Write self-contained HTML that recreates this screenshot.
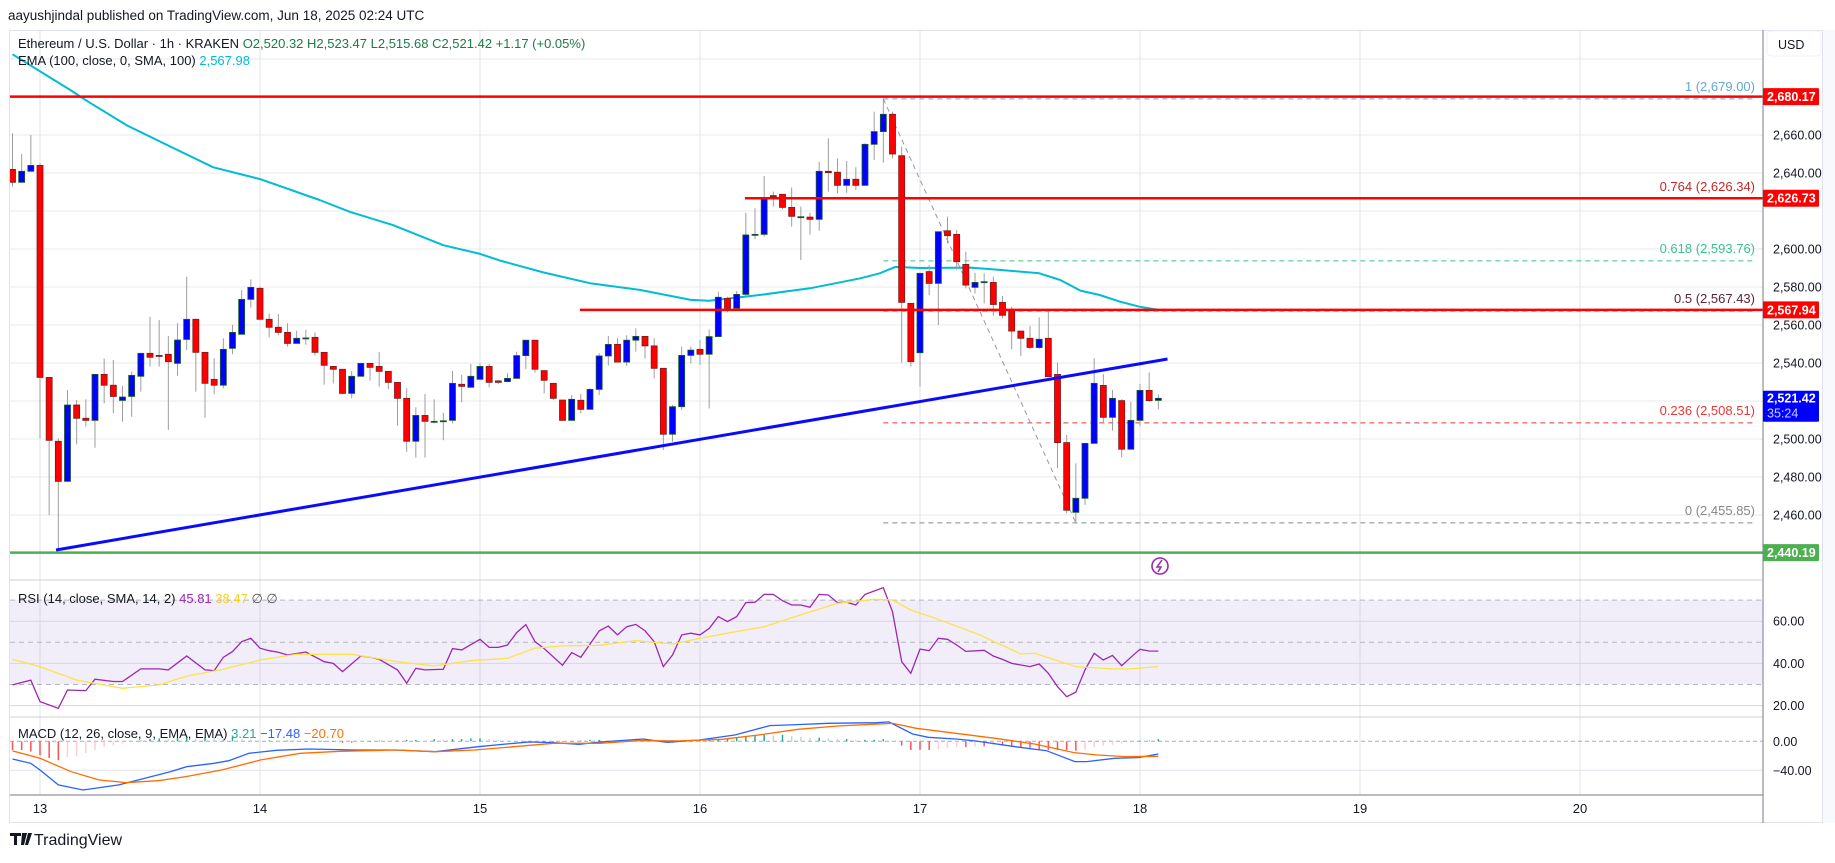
<!DOCTYPE html>
<html><head><meta charset="utf-8"><style>
html,body{margin:0;padding:0;background:#fff;}
body{width:1835px;height:858px;overflow:hidden;font-family:"Liberation Sans",sans-serif;}
svg text{font-family:"Liberation Sans",sans-serif;}
</style></head><body>
<svg id="chart" width="1835" height="858" viewBox="0 0 1835 858" xmlns="http://www.w3.org/2000/svg">
<rect x="0" y="0" width="1835" height="858" fill="#ffffff"/>
<text x="8" y="20" font-size="13.5" fill="#131722">aayushjindal published on TradingView.com, Jun 18, 2025 02:24 UTC</text>
<rect x="9.5" y="30.5" width="1813" height="792" fill="none" stroke="#e0e3eb"/>
<rect x="1823" y="30" width="12" height="793" fill="#f8f9fd"/>
<g id="grid"></g>
<rect x="10" y="600" width="1753" height="84.3" fill="#7e57c2" fill-opacity="0.1"/>
<g id="gridfront"></g>
<g id="main" clip-path="url(#clipMain)"></g>
<g id="rsi"></g>
<g id="macd"></g>
<g id="axis"></g>
<defs><clipPath id="clipMain"><rect x="10" y="31" width="1753" height="549"/></clipPath></defs>
<text x="18" y="48" font-size="13" fill="#131722">Ethereum / U.S. Dollar · 1h · KRAKEN <tspan fill="#1e7a45">O2,520.32 H2,523.47 L2,515.68 C2,521.42 +1.17 (+0.05%)</tspan></text>
<text x="18" y="65" font-size="13" fill="#131722">EMA (100, close, 0, SMA, 100) <tspan fill="#00bcd4">2,567.98</tspan></text>
<text x="18" y="603" font-size="13" fill="#131722">RSI (14, close, SMA, 14, 2) <tspan fill="#9c27b0">45.81</tspan> <tspan fill="#f2d027">38.47</tspan> <tspan fill="#555">∅ ∅</tspan></text>
<text x="18" y="738" font-size="13" fill="#131722">MACD (12, 26, close, 9, EMA, EMA) <tspan fill="#26a69a">3.21</tspan> <tspan fill="#2962ff">−17.48</tspan> <tspan fill="#ff6d00">−20.70</tspan></text>
<g>
<path d="M10 833h11v3h-4v9h-3v-9h-4z M22 833h5l-3 12h-3z M28 833h4l-4 12h-3z" fill="#131722"/>
<text x="34" y="845" font-size="16" fill="#131722">TradingView</text>
</g>
<g><rect x="1767" y="31" width="54" height="25" rx="4" fill="#fff" stroke="#eef0f3"/><text x="1778" y="49" font-size="12.5" fill="#131722">USD</text></g>
</svg>
<script>
// ---------- data ----------
const startIndex = -3;
const opens = [2641.9,2635.1,2640.9,2644.0,2532.4,2498.8,2477.7,2517.9,2510.9,2509.8,2534.0,2528.3,2520.3,2522.4,2533.0,2545.1,2544.0,2544.6,2539.8,2552.4,2563.0,2545.6,2531.4,2528.3,2547.7,2555.1,2573.5,2579.3,2563.0,2558.8,2556.1,2550.3,2553.2,2553.5,2545.6,2538.2,2536.7,2524.0,2533.0,2539.8,2538.2,2535.6,2529.8,2521.4,2498.8,2512.4,2509.3,2509.6,2509.8,2528.8,2527.2,2531.4,2538.2,2530.6,2530.2,2531.9,2543.9,2552.0,2536.0,2529.3,2520.5,2509.8,2520.4,2515.6,2526.1,2543.7,2549.8,2540.5,2552.0,2554.0,2549.0,2537.2,2502.5,2517.0,2544.0,2547.2,2544.6,2553.9,2574.0,2568.8,2576.1,2607.7,2607.7,2628.1,2628.8,2621.9,2617.0,2616.8,2615.6,2640.9,2640.4,2633.5,2636.7,2633.5,2655.1,2661.8,2670.9,2649.1,2571.4,2545.4,2588.1,2581.9,2609.6,2607.7,2591.9,2579.8,2582.8,2582.4,2571.9,2567.4,2556.8,2553.0,2548.1,2553.0,2534.0,2498.1,2461.4,2468.8,2497.7,2528.2,2511.4,2520.2,2494.6,2509.8,2525.6,2520.32];
const highs = [2660.9,2650.0,2660.0,2645.1,2532.4,2500.3,2525.8,2520.5,2520.9,2534.0,2542.3,2541.6,2527.9,2535.3,2545.1,2564.4,2562.6,2554.2,2560.9,2585.4,2563.5,2545.6,2542.5,2553.0,2560.0,2578.4,2584.0,2580.2,2566.1,2565.8,2560.9,2557.0,2557.4,2556.1,2545.6,2538.2,2536.7,2535.8,2539.8,2539.8,2545.8,2535.6,2529.8,2526.7,2516.7,2523.7,2520.9,2513.8,2535.8,2533.7,2539.5,2539.8,2539.5,2531.0,2534.6,2546.0,2552.0,2552.0,2536.0,2529.3,2520.5,2523.2,2523.7,2526.7,2545.1,2554.2,2553.0,2554.6,2558.2,2554.0,2553.0,2537.2,2517.9,2548.6,2548.6,2552.1,2557.7,2577.6,2574.9,2577.9,2619.1,2621.4,2638.4,2630.2,2628.8,2632.4,2622.3,2619.1,2645.9,2658.2,2647.7,2646.3,2643.0,2655.6,2672.3,2679.3,2672.3,2653.9,2571.4,2587.2,2591.6,2609.1,2617.0,2610.0,2598.6,2587.5,2587.2,2585.4,2575.3,2569.6,2556.8,2559.5,2564.0,2567.4,2540.3,2502.1,2487.2,2497.7,2542.5,2534.2,2525.8,2520.9,2519.6,2529.0,2535.1,2523.47];
const lows = [2632.8,2635.1,2640.9,2500.3,2460.0,2442.0,2477.5,2497.2,2506.5,2495.4,2518.8,2513.5,2509.1,2511.7,2524.9,2538.1,2538.1,2504.7,2533.3,2546.8,2524.9,2511.2,2523.5,2526.7,2544.6,2555.1,2569.1,2563.0,2553.5,2554.6,2548.6,2550.3,2549.6,2543.9,2528.6,2529.3,2524.0,2521.4,2533.0,2530.7,2527.5,2526.3,2507.0,2493.3,2490.2,2490.2,2508.2,2499.3,2508.2,2519.3,2527.2,2531.4,2527.2,2529.0,2530.2,2531.9,2536.7,2534.9,2524.0,2520.5,2509.8,2509.8,2513.5,2515.6,2523.2,2538.6,2540.5,2538.4,2546.0,2542.3,2531.9,2494.2,2498.6,2515.3,2539.8,2539.0,2516.1,2553.9,2566.7,2568.8,2574.9,2605.1,2606.5,2622.3,2620.9,2611.8,2594.2,2607.5,2609.6,2630.2,2629.3,2629.6,2631.1,2633.5,2646.8,2645.5,2647.7,2540.2,2538.1,2527.5,2575.8,2560.0,2603.0,2589.0,2579.3,2576.6,2571.4,2564.9,2563.5,2547.2,2543.7,2547.5,2547.5,2532.8,2484.6,2460.9,2455.9,2465.3,2497.7,2508.2,2504.4,2490.3,2494.6,2506.8,2519.6,2515.68];
const closes = [2635.1,2640.9,2644.0,2532.4,2499.3,2477.7,2517.9,2510.9,2509.8,2534.0,2528.3,2522.4,2522.1,2533.5,2545.1,2543.0,2543.9,2540.7,2552.1,2563.0,2545.6,2529.3,2528.3,2547.2,2556.1,2573.5,2579.8,2563.0,2558.8,2556.1,2550.3,2553.0,2553.2,2545.6,2538.8,2536.7,2524.0,2533.0,2539.8,2537.7,2535.6,2529.8,2521.4,2498.8,2512.4,2509.3,2509.3,2509.6,2529.3,2527.7,2533.0,2538.2,2529.8,2529.8,2531.9,2543.9,2552.0,2536.7,2530.9,2521.4,2509.8,2520.9,2515.6,2526.1,2543.7,2549.8,2540.5,2552.0,2554.0,2549.0,2537.2,2502.5,2517.0,2544.0,2546.8,2544.6,2553.9,2574.6,2568.8,2576.1,2607.4,2607.7,2626.7,2627.6,2621.9,2617.2,2617.0,2615.6,2640.9,2640.2,2633.5,2636.7,2633.5,2655.1,2661.8,2670.9,2650.0,2571.9,2540.7,2587.2,2581.9,2609.1,2607.0,2593.3,2581.0,2582.4,2582.8,2570.8,2565.1,2556.8,2553.0,2548.2,2552.5,2532.8,2498.1,2462.5,2468.8,2497.7,2529.3,2511.4,2521.4,2494.6,2509.8,2525.6,2520.2,2521.42];
const emaIdx = [-3,3.3,5.1,9.5,13.9,18.9,24,30.5,33.8,38.5,44,48,50.2,55,60,65.5,71,73,78.5,84,89.5,91.6,93.3,96,101.5,104.7,109,111.3,113.5,115.6,117.8,120,122];
const emaVal = [2702.5,2683.7,2678.0,2665.0,2654.7,2643.0,2636.8,2625.8,2619.6,2612.6,2602.0,2597.4,2593.9,2587.6,2582.0,2578.4,2573.2,2572.8,2575.8,2579.3,2584.6,2587.2,2590.6,2590.0,2590.2,2589.0,2587.2,2583.7,2578.1,2575.8,2572.3,2569.6,2567.98];
const rsiIdx = [-3,-1,0,2,3,5,6,8,9,11,13,14,16,18,19,20,21,22,23,24,25,26,27,29,31,32,33,35,36,37,39,40,41,42,44,45,46,48,49,50,51,52,53,54,55,57,58,59,61,62,63,64,65,66,67,68,69,70,71,72,73,74,75,76,77,78,79,80,81,82,83,84,85,86,87,88,89,90,91,92,93,94,95,96,97,98,99,100,101,103,104,105,106,108,109,110,111,112,113,114,115,116,117,118,119,120,121,122];
const rsiVal = [29.8,32.1,21.9,18.7,27.4,27.1,32.5,31.4,31.4,37.4,37.4,36.9,43.5,36.9,36.6,42.9,45.6,50.3,51.9,47.2,46.0,45.3,44.0,45.4,40.8,40.0,36.1,43.5,42.9,41.9,36.9,30.6,37.7,36.9,37.2,47.0,46.4,51.4,47.6,47.6,48.7,54.6,58.4,50.3,47.0,39.1,45.1,42.9,55.4,57.7,53.5,57.4,58.5,55.5,50.3,38.5,44.0,53.5,54.3,53.5,56.6,62.2,59.8,62.2,68.8,69.0,72.7,72.7,69.7,67.7,67.7,66.6,72.7,72.4,68.8,69.0,67.7,72.7,74.3,75.9,64.5,40.8,35.3,46.8,46.0,51.9,51.4,48.7,45.7,46.2,43.5,41.9,40.0,38.5,39.7,35.3,29.0,24.2,26.4,36.9,44.8,41.6,43.8,38.9,42.9,46.7,45.9,45.81];
const rsiMaIdx = [-3,0,4,9,13,16,20,24,28,34,39,43,47,51,54,57,61,65,69,72,75,79,83,87,91,93,95,98,102.5,107,108.5,113,117,119,122];
const rsiMaVal = [41.9,38.5,32.1,28.2,29.8,34.0,37.2,41.6,44.3,44.3,40.8,38.8,41.3,42.4,47.2,48.3,48.6,50.8,49.2,51.9,54.3,57.4,63.0,68.5,70.4,70.1,65.3,60.9,53.5,44.5,44.8,38.5,37.4,37.4,38.47];
const macdIdx = [-3,-1,0,2,4.7,8.6,10.7,14.2,16,19,20.6,22.8,25.8,29.3,34.4,38.8,43.1,47.8,51.7,53.4,56,58.8,61.1,65.8,68.4,71.9,75.8,79.6,82.6,86,91.3,92.6,95.2,96.9,99.9,102,106.4,109.8,112.9,114.2,117.2,119.8,122];
const macdVal = [-24.4,-30.4,-39.6,-60.2,-67.2,-60.2,-53.4,-41.9,-35.0,-30.4,-26.7,-16.6,-12.4,-10.6,-12.0,-12.0,-14.3,-7.4,-2.8,-0.9,-1.8,-4.1,-0.9,3.2,-1.4,1.8,8.7,21.6,23.0,24.8,25.7,26.7,10.1,5.5,3.2,0.5,-7.4,-12.9,-28.0,-28.0,-23.5,-22.5,-17.48];
const sigIdx = [-3,0,3.4,6.4,9.4,12.9,15.9,19.8,24.1,28.4,32.7,38.8,43.1,47.4,51.7,56,61.1,65.4,69.7,74.4,78.4,82.7,87,93,95.6,99.9,104.2,108.5,112.8,115.4,118.4,122];
const sigVal = [-13.3,-23.5,-41.9,-53.3,-57.0,-54.3,-48.7,-39.6,-25.7,-16.5,-13.8,-12.0,-14.3,-12.0,-7.4,-2.8,-2.8,0.9,0.5,2.8,8.7,16.6,21.1,24.8,17.9,11.0,4.1,-3.7,-15.6,-18.9,-21.1,-20.70];
const histVal = [-12,-12,-14,-19,-23,-26,-22,-21,-16,-12,-8,-6,-3,
 -1,1,3,4,3,5,5,4,6,5,4,6,3,2,1,1,0,1,0,-1,-1,
 -1,-1,-2,-2,-1,0,1,0,1,2,2,1,3,2,3,3,4,4,3,2,
 1,0,-1,-1,-1,-1,0,0,1,2,2,1,1,2,2,3,1,-1,-2,0,
 1,2,2,
 3,4,5,7,8,9,8,9,7,6,5,5,4,3,3,2,2,2,3,1,
 -6,-12,-12,-12,-11,-9,-8,-8,-7,-7,-6,-6,-7,-9,-9,-11,-12,-12,-12,-13,
 -11,-8,-6,-5,-3,-2,1,1,3];
const priceTicks = [2700,2680,2660,2640,2620,2600,2580,2560,2540,2520,2500,2480,2460,2440];
const priceTickLabels = ["2,700.00","2,680.00","2,660.00","2,640.00","2,620.00","2,600.00","2,580.00","2,560.00","2,540.00","2,520.00","2,500.00","2,480.00","2,460.00","2,440.00"];
const hiddenTicks = [2680,2620,2520,2440];
const dayLabels = ["13","14","15","16","17","18","19","20"];
const dayIdx = [0,24,48,72,96,120,144,168];
const rsiTicks = [60,40,20];
const rsiTickLabels = ["60.00","40.00","20.00"];
const rsiDashed = [70,50,30];
const macdTicks = [0,-40];
const macdTickLabels = ["0.00","−40.00"];
const redLevels = [2680.17,2626.73,2567.94];
const redLevelStart = [-3.5,76.9,58.9];
const redLevelLabels = ["2,680.17","2,626.73","2,567.94"];
const fibLevels = [1,0.764,0.618,0.5,0.236,0];
const fibPrices = [2679.00,2626.34,2593.76,2567.43,2508.51,2455.85];
const fibColors = ["#64a6d8","#c62828","#3cbf95","#5d2333","#e53935","#888888"];
const fibStartIdx = 92;
const fibEndIdx = 113;
const trendIdx = [1.75,123];
const trendPrice = [2441.6,2542.1];
const supportPrice = 2440.19;
const lastPrice = 2521.42;

// ---------- scales ----------
const X = i => 40 + i*9.1667;
const Y = p => 135 + (2660-p)*1.9;
const RY = v => 642.3 - (v-50)*2.11;
const MY = v => 741.3 - v*0.725;
const NS = "http://www.w3.org/2000/svg";
function mk(tag, attrs, parent){const e=document.createElementNS(NS,tag);for(const k in attrs)e.setAttribute(k,attrs[k]);parent.appendChild(e);return e;}
const G=document.getElementById('grid'), GF=document.getElementById('gridfront'), M=document.getElementById('main'), R=document.getElementById('rsi'), MC=document.getElementById('macd'), A=document.getElementById('axis');

// grid
priceTicks.forEach(p=>{const y=Y(p); if(y>31&&y<580){const l=mk('line',{x1:10,x2:1763,y1:y,y2:y,stroke:'#e6e8ee','stroke-width':1},G);

}});
dayIdx.forEach(i=>{const x=X(i);const l=mk('line',{x1:x,x2:x,y1:31,y2:795,stroke:'#e0e3eb','stroke-width':1},G);

});
[580,717].forEach(y=>{const l=mk('line',{x1:10,x2:1763,y1:y,y2:y,stroke:'#d6d9e0','stroke-width':1.2},G);

});
rsiTicks.forEach(v=>{const l=mk('line',{x1:10,x2:1763,y1:RY(v),y2:RY(v),stroke:'#d8d4e4','stroke-width':1},GF);

});
rsiDashed.forEach(v=>{const l=mk('line',{x1:10,x2:1763,y1:RY(v),y2:RY(v),stroke:'#b2b5be','stroke-width':1,'stroke-dasharray':'5,4'},GF);

});
{const l=mk('line',{x1:10,x2:1763,y1:MY(-40),y2:MY(-40),stroke:'#e0e3eb'},GF);


const z=mk('line',{x1:10,x2:1763,y1:MY(0),y2:MY(0),stroke:'#a8abb4','stroke-dasharray':'4,3'},GF);

}

// support line
{const l=mk('line',{x1:10,x2:1763,y1:Y(supportPrice),y2:Y(supportPrice),stroke:'#4caf50','stroke-width':2.5},M);

}

// fib
fibLevels.forEach((f,k)=>{const y=Y(fibPrices[k]);
const l=mk('line',{x1:X(fibStartIdx),x2:1755,y1:y,y2:y,stroke:fibColors[k],'stroke-width':1,'stroke-dasharray':'5,4'},M);


const t=mk('text',{x:1755,y:y-8,'font-size':13,fill:fibColors[k],'text-anchor':'end'},M);
t.textContent=f+' ('+fibPrices[k].toLocaleString('en-US',{minimumFractionDigits:2})+')';

});
{const l=mk('line',{x1:X(fibStartIdx),y1:Y(fibPrices[0]),x2:X(fibEndIdx),y2:Y(fibPrices[5]),stroke:'#9598a1','stroke-width':1,'stroke-dasharray':'5,4'},M);

}

// EMA
{let d='';emaIdx.forEach((i,k)=>{d+=(k?'L':'M')+X(i).toFixed(1)+','+Y(emaVal[k]).toFixed(1);});
const p=mk('path',{d:d,fill:'none',stroke:'#00bcd4','stroke-width':2,'stroke-linejoin':'round'},M);

}

// candles
closes.forEach((c,k)=>{const i=k+startIndex, x=X(i), o=opens[k], up=c>=o;
const g=mk('g',{},M);


mk('line',{x1:x,x2:x,y1:Y(highs[k]),y2:Y(lows[k]),stroke:'#9e9e9e','stroke-width':1},g);
const yt=Y(Math.max(o,c)), yb=Y(Math.min(o,c));
mk('rect',{x:x-3,y:yt,width:6,height:Math.max(1,yb-yt),fill:up?'#0000ff':'#ff0000',stroke:up?'#1b5e20':'#7a1c1c','stroke-width':0.8},g);});

// red lines
redLevels.forEach((p,k)=>{const l=mk('line',{x1:X(redLevelStart[k]),x2:1763,y1:Y(p),y2:Y(p),stroke:'#ff0000','stroke-width':2.5},M);

});
// trendline
{const l=mk('line',{x1:X(trendIdx[0]),y1:Y(trendPrice[0]),x2:X(trendIdx[1]),y2:Y(trendPrice[1]),stroke:'#0a0aff','stroke-width':3},M);

}
// icon
{const g=mk('g',{},M);


mk('circle',{cx:1160,cy:566,r:8,fill:'none',stroke:'#9c27b0','stroke-width':1.6},g);
mk('path',{d:'M1162 560 L1157 567 L1161 567 L1158 572',fill:'none',stroke:'#9c27b0','stroke-width':1.5},g);}

// RSI
{let d='';rsiIdx.forEach((i,k)=>{d+=(k?'L':'M')+X(i).toFixed(1)+','+RY(rsiVal[k]).toFixed(1);});
const p=mk('path',{d:d,fill:'none',stroke:'#9c27b0','stroke-width':1.3},R);


let d2='';rsiMaIdx.forEach((i,k)=>{d2+=(k?'L':'M')+X(i).toFixed(1)+','+RY(rsiMaVal[k]).toFixed(1);});
const p2=mk('path',{d:d2,fill:'none',stroke:'#fbe34a','stroke-width':1.3},R);

}

// MACD
histVal.forEach((v,k)=>{const i=k+startIndex, prev=k?histVal[k-1]:v;
let col = v>=0 ? (v>=prev?'#26a69a':'#b2dfdb') : (v<=prev?'#ff5252':'#ffcdd2');
const b=mk('rect',{x:X(i)-0.75,y:Math.min(MY(0),MY(v)),width:1.5,height:Math.max(0.5,Math.abs(MY(v)-MY(0))),fill:col},MC);

});
{let d='';macdIdx.forEach((i,k)=>{d+=(k?'L':'M')+X(i).toFixed(1)+','+MY(macdVal[k]).toFixed(1);});
const p=mk('path',{d:d,fill:'none',stroke:'#2962ff','stroke-width':1.3},MC);


let d2='';sigIdx.forEach((i,k)=>{d2+=(k?'L':'M')+X(i).toFixed(1)+','+MY(sigVal[k]).toFixed(1);});
const p2=mk('path',{d:d2,fill:'none',stroke:'#ff6d00','stroke-width':1.3},MC);

}

// axes
{const l=mk('line',{x1:1763,x2:1763,y1:30,y2:823,stroke:'#787b86'},A);


const b=mk('line',{x1:10,x2:1763,y1:795,y2:795,stroke:'#787b86'},A);

}
priceTicks.forEach((p,k)=>{const y=Y(p); if(y<62||y>575||hiddenTicks.includes(p))return;
const t=mk('text',{x:1773,y:y+4.5,'font-size':12.5,fill:'#131722'},A);t.textContent=priceTickLabels[k];

});
rsiTicks.forEach((v,k)=>{const t=mk('text',{x:1773,y:RY(v)+4.5,'font-size':12.5,fill:'#131722'},A);t.textContent=rsiTickLabels[k];

});
macdTicks.forEach((v,k)=>{const t=mk('text',{x:1773,y:MY(v)+4.5,'font-size':12.5,fill:'#131722'},A);t.textContent=macdTickLabels[k];

});
dayLabels.forEach((d,k)=>{const t=mk('text',{x:X(dayIdx[k]),y:813,'font-size':13,fill:'#131722','text-anchor':'middle'},A);t.textContent=d;

});
function tag(y,bg,label,h){const g=mk('g',{},A);


mk('rect',{x:1763,y:y-h/2,width:56,height:h,fill:bg,rx:1},g);
const t=mk('text',{x:1767,y:y+4.5,'font-size':12.5,'font-weight':'bold',fill:'#fff'},g);t.textContent=label;return g;}
redLevels.forEach((p,k)=>tag(Y(p),'#ff0000',redLevelLabels[k],17));
tag(Y(supportPrice),'#4caf50','2,440.19',17);
{const y=Y(lastPrice);const g=tag(y+8,'#0000ff','',31);
const t=mk('text',{x:1767,y:y+4,'font-size':12.5,'font-weight':'bold',fill:'#fff'},g);t.textContent='2,521.42';
const t2=mk('text',{x:1767,y:y+19,'font-size':12.5,fill:'#c8d0ff'},g);t2.textContent='35:24';}
</script>
</body></html>
